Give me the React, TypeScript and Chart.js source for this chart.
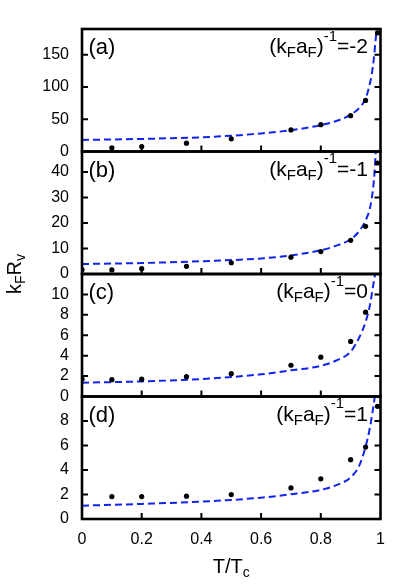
import React, { useEffect, useRef } from 'react';
import { Chart, registerables } from 'chart.js';

Chart.register(...registerables);

// ---- data ----
const panelLabels = ['(a)', '(b)', '(c)', '(d)'];
const couplingValues = ['-2', '-1', '0', '1'];
const yMaxes = [190, 48, 12, 10];
const yTicksA = [0, 50, 100, 150];
const yTicksB = [0, 10, 20, 30, 40];
const yTicksC = [0, 2, 4, 6, 8, 10];
const yTicksD = [0, 2, 4, 6, 8];
const xTickValues = [0, 0.2, 0.4, 0.6, 0.8, 1];

const dotsA_T = [0.1, 0.2, 0.35, 0.5, 0.7, 0.8, 0.9, 0.95, 0.99];
const dotsA = [5.7, 7.7, 12.9, 19.6, 33.4, 41.6, 55.5, 79.2, 184];
const dotsB_T = [0, 0.1, 0.2, 0.35, 0.5, 0.7, 0.8, 0.9, 0.95, 0.99];
const dotsB = [1.7, 1.6, 2.1, 3.0, 4.4, 6.6, 8.8, 13.2, 18.7, 43.5];
const dotsC_T = [0, 0.1, 0.2, 0.35, 0.5, 0.7, 0.8, 0.9, 0.95];
const dotsC = [1.7, 1.65, 1.7, 1.94, 2.24, 3.06, 3.85, 5.4, 8.26];
const dotsD_T = [0.1, 0.2, 0.35, 0.5, 0.7, 0.8, 0.9, 0.95, 0.99];
const dotsD = [1.83, 1.83, 1.86, 1.99, 2.54, 3.28, 4.84, 5.87, 9.2];

const curveA_T = [0, 0.1, 0.2, 0.3, 0.4, 0.5, 0.6, 0.7, 0.8, 0.85, 0.9, 0.93, 0.95, 0.96, 0.97, 0.978, 0.983, 0.987];
const curveA = [18, 18.7, 19.5, 20.6, 22, 24.5, 28, 33, 41, 47, 57, 68, 82, 97, 118, 145, 170, 190];
const curveB_T = [0, 0.2, 0.4, 0.6, 0.7, 0.8, 0.85, 0.9, 0.93, 0.95, 0.965, 0.975, 0.98, 0.984];
const curveB = [3.9, 4.3, 5.0, 6.1, 7.3, 9.3, 11, 13.6, 17, 21, 26, 33.4, 40, 48];
const curveC_T = [0, 0.2, 0.4, 0.6, 0.7, 0.8, 0.85, 0.9, 0.93, 0.95, 0.965, 0.975, 0.982];
const curveC = [1.35, 1.48, 1.71, 2.17, 2.57, 3.0, 3.5, 4.4, 5.85, 7.3, 9.0, 10.8, 12];
const curveD_T = [0, 0.2, 0.4, 0.6, 0.7, 0.8, 0.85, 0.9, 0.93, 0.95, 0.965, 0.975, 0.981];
const curveD = [1.09, 1.23, 1.42, 1.74, 2.02, 2.38, 2.75, 3.4, 4.42, 5.9, 7.5, 9.0, 10];

const dotTs = [dotsA_T, dotsB_T, dotsC_T, dotsD_T];
const dotVals = [dotsA, dotsB, dotsC, dotsD];
const curveTs = [curveA_T, curveB_T, curveC_T, curveD_T];
const curveVals = [curveA, curveB, curveC, curveD];
const yTickSets = [yTicksA, yTicksB, yTicksC, yTicksD];

// ---- styling ----
const FONT = '"Liberation Sans", Arial, Helvetica, sans-serif';
const axisIds = ['ya', 'yb', 'yc', 'yd'];
const BLUE = '#1024ee';

type Seg = { t: string; k?: 'sub' | 'sup' };

function drawRich(ctx: CanvasRenderingContext2D, segs: Seg[], x: number, y: number, size: number, align: 'left' | 'right' | 'center') {
  const small = Math.round(size * 0.72);
  const fontFor = (s: Seg) => `${s.k ? small : size}px ${FONT}`;
  let w = 0;
  segs.forEach((s) => {
    ctx.font = fontFor(s);
    w += ctx.measureText(s.t).width;
  });
  let cx = align === 'left' ? x : align === 'right' ? x - w : x - w / 2;
  ctx.textAlign = 'left';
  ctx.textBaseline = 'alphabetic';
  segs.forEach((s) => {
    ctx.font = fontFor(s);
    const dy = s.k === 'sub' ? size * 0.2 : s.k === 'sup' ? -size * 0.58 : 0;
    ctx.fillText(s.t, cx, y + dy);
    cx += ctx.measureText(s.t).width;
  });
}

const framePlugin = {
  id: 'panelFrames',
  afterDatasetsDraw(chart: any) {
    const ctx: CanvasRenderingContext2D = chart.ctx;
    const { left, right, top: areaTop, bottom: areaBottom } = chart.chartArea;
    const xs = chart.scales.x;
    ctx.save();
    ctx.fillStyle = '#000';
    ctx.strokeStyle = '#000';
    axisIds.forEach((id, i) => {
      const s = chart.scales[id];
      const top = s.top;
      const bottom = s.bottom;
      ctx.lineWidth = 2;
      ctx.beginPath();
      s.ticks.forEach((t: any) => {
        if (t.value <= s.min || t.value >= s.max) return;
        const y = s.getPixelForValue(t.value);
        ctx.moveTo(left, y);
        ctx.lineTo(left + 6, y);
        ctx.moveTo(right, y);
        ctx.lineTo(right - 6, y);
      });
      xs.ticks.forEach((t: any) => {
        if (t.value <= xs.min || t.value >= xs.max) return;
        const x = xs.getPixelForValue(t.value);
        ctx.moveTo(x, bottom);
        ctx.lineTo(x, bottom - 6);
      });
      ctx.stroke();
      ctx.lineWidth = 2.6;
      ctx.strokeRect(left, top, right - left, bottom - top);

      ctx.font = `22px ${FONT}`;
      ctx.textAlign = 'left';
      ctx.textBaseline = 'alphabetic';
      ctx.fillText(panelLabels[i], left + 6.5, top + 25);
      drawRich(
        ctx,
        [
          { t: '(k' },
          { t: 'F', k: 'sub' },
          { t: 'a' },
          { t: 'F', k: 'sub' },
          { t: ')' },
          { t: '-1', k: 'sup' },
          { t: '=' + couplingValues[i] },
        ],
        right - 12.5,
        top + 24,
        21,
        'right'
      );
    });

    // axis titles
    drawRich(ctx, [{ t: 'T/T' }, { t: 'c', k: 'sub' }], (left + right) / 2, 572.5, 20, 'center');
    ctx.save();
    ctx.translate(20.5, (areaTop + areaBottom) / 2);
    ctx.rotate(-Math.PI / 2);
    drawRich(ctx, [{ t: 'k' }, { t: 'F', k: 'sub' }, { t: 'R' }, { t: 'v', k: 'sub' }], 0, 0, 20, 'center');
    ctx.restore();
    ctx.restore();
  },
};

export default function App() {
  const ref = useRef<HTMLCanvasElement | null>(null);

  useEffect(() => {
    if (!ref.current) return;
    const datasets: any[] = [];
    for (let i = 0; i < 4; i++) {
      datasets.push({
        label: 'dots' + i,
        data: dotTs[i].map((t, j) => ({ x: t, y: dotVals[i][j] })),
        yAxisID: axisIds[i],
        showLine: false,
        pointRadius: 2.6,
        pointBackgroundColor: '#000',
        pointBorderColor: '#000',
        pointBorderWidth: 0,
        order: 0,
      });
      datasets.push({
        label: 'curve' + i,
        data: curveTs[i].map((t, j) => ({ x: t, y: curveVals[i][j] })),
        yAxisID: axisIds[i],
        showLine: true,
        borderColor: BLUE,
        borderWidth: 2,
        borderDash: [7, 4],
        pointRadius: 0,
        cubicInterpolationMode: 'monotone',
        fill: false,
        order: 1,
      });
    }

    const yScale = (i: number) => ({
      type: 'linear',
      position: 'left',
      stack: 'panels',
      stackWeight: 1,
      min: 0,
      max: yMaxes[i],
      grid: { display: false, drawTicks: false },
      border: { display: false },
      afterBuildTicks: (scale: any) => {
        scale.ticks = yTickSets[i].map((v) => ({ value: v }));
      },
      afterFit: (scale: any) => {
        scale.width = 82;
      },
      ticks: {
        autoSkip: false,
        color: '#000',
        padding: 13,
        font: { family: FONT, size: 16 },
        callback: (v: any) => String(v),
      },
    });

    const chart = new Chart(ref.current, {
      type: 'scatter',
      data: { datasets },
      plugins: [framePlugin],
      options: {
        animation: false,
        responsive: false,
        layout: { padding: { top: 29, right: 28.5, bottom: 0, left: 0 } },
        plugins: { legend: { display: false }, tooltip: { enabled: false } },
        scales: {
          x: {
            type: 'linear',
            min: 0,
            max: 1,
            grid: { display: false, drawTicks: false },
            border: { display: false },
            afterBuildTicks: (scale: any) => {
              scale.ticks = xTickValues.map((v) => ({ value: v }));
            },
            afterFit: (scale: any) => {
              scale.height = 65;
            },
            ticks: {
              color: '#000',
              padding: 11,
              maxRotation: 0,
              autoSkip: false,
              font: { family: FONT, size: 16 },
              callback: (v: any) => String(v),
            },
          },
          yd: yScale(3),
          yc: yScale(2),
          yb: yScale(1),
          ya: yScale(0),
        } as any,
      },
    } as any);
    return () => chart.destroy();
  }, []);

  return (
    <div style={{ position: 'absolute', left: 0, top: 0, width: 409, height: 584, background: '#fff' }}>
      <canvas ref={ref} width={409} height={584} style={{ display: 'block' }} />
    </div>
  );
}
